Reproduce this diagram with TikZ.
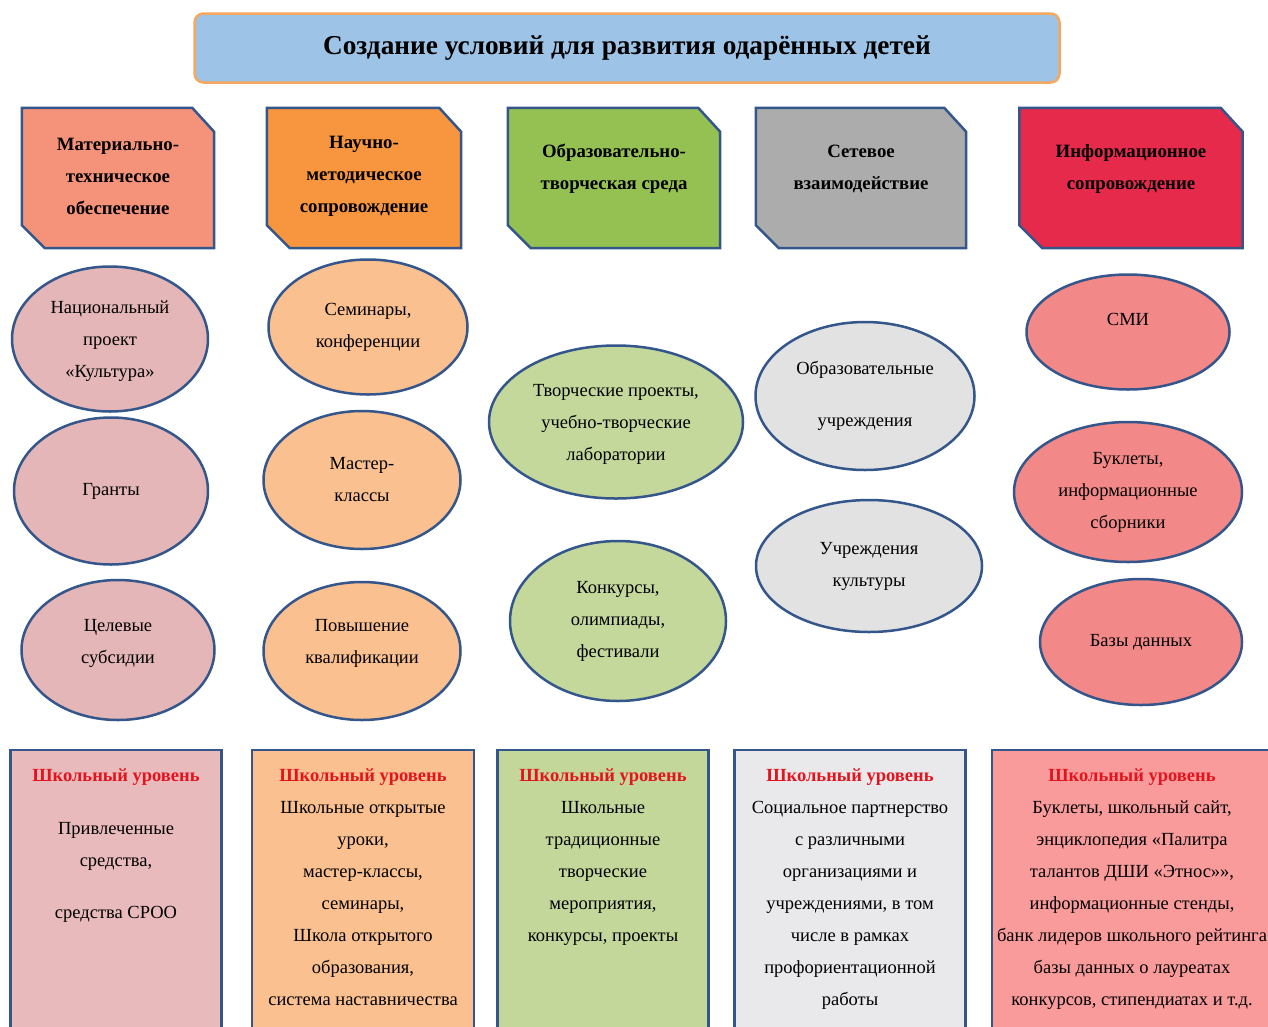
\documentclass[tikz,border=0pt]{standalone}
\usepackage{fontspec}
\setmainfont{Liberation Serif}
\usetikzlibrary{shapes.geometric}
\definecolor{bord}{HTML}{34568B}
\definecolor{titlefill}{HTML}{9DC3E6}
\definecolor{titlebord}{HTML}{F5A860}
\definecolor{hA}{HTML}{F4937A}
\definecolor{hB}{HTML}{F7963F}
\definecolor{hC}{HTML}{95C052}
\definecolor{hD}{HTML}{ACACAC}
\definecolor{hE}{HTML}{E52A4C}
\definecolor{eA}{HTML}{E4B6B7}
\definecolor{eB}{HTML}{FAC090}
\definecolor{eC}{HTML}{C4D89C}
\definecolor{eD}{HTML}{E2E2E2}
\definecolor{eE}{HTML}{F28888}
\definecolor{bA}{HTML}{E8BABC}
\definecolor{bB}{HTML}{FAC08F}
\definecolor{bC}{HTML}{C4D79B}
\definecolor{bD}{HTML}{E9E9EC}
\definecolor{bE}{HTML}{F99B9B}
\definecolor{lvl}{HTML}{E3141E}
\newcommand{\lvltxt}[1]{\textcolor{lvl}{\bfseries #1}}
% chamfered header outline drawn from a named rectangle node
\newcommand{\chamfbox}[2]{%
  \filldraw[fill=#2, draw=bord, line width=2.5pt, line join=miter]
    (#1.north west) -- ([xshift=-22pt]#1.north east) -- ([yshift=-24pt]#1.north east)
    -- (#1.south east) -- ([xshift=23pt]#1.south west) -- ([yshift=23pt]#1.south west) -- cycle;}
\begin{document}
\begin{tikzpicture}[x=1pt,y=-1pt,
  titlebox/.style={draw=titlebord, line width=2.5pt, fill=titlefill, rounded corners=9pt,
    font=\fontsize{27.3}{30}\selectfont\bfseries},
  hdrbox/.style={rectangle, minimum height=140pt, inner sep=0pt},
  hdrtext/.style={align=center, inner sep=0pt, font=\fontsize{18.8}{32}\selectfont\bfseries},
  ellnode/.style={ellipse, draw=bord, line width=2.5pt, align=center, inner sep=0pt,
    font=\fontsize{18.5}{32}\selectfont},
  lowbox/.style={rectangle, draw=bord, line width=2.5pt, minimum height=290pt},
  lowtext/.style={anchor=north, align=center, inner sep=0pt, font=\fontsize{18.5}{32}\selectfont}
]
\useasboundingbox (0,0) rectangle (1268,1026);
\clip (0,0) rectangle (1268,1026);
\fill[white] (0,0) rectangle (1268,1026);

% title
\node[titlebox, minimum width=865pt, minimum height=69pt] (title) at (627,48)
  {Создание условий для развития одарённых детей};

% headers
\node[hdrbox, minimum width=192pt] (hA) at (118,178) {};
\node[hdrbox, minimum width=194pt] (hB) at (364,178) {};
\node[hdrbox, minimum width=212pt] (hC) at (614,178) {};
\node[hdrbox, minimum width=210pt] (hD) at (861,178) {};
\node[hdrbox, minimum width=223pt] (hE) at (1131,178) {};
\chamfbox{hA}{hA}
\chamfbox{hB}{hB}
\chamfbox{hC}{hC}
\chamfbox{hD}{hD}
\chamfbox{hE}{hE}
\node[hdrtext] (hAt) at (118,176) {Материально-\\техническое\\обеспечение};
\node[hdrtext] (hBt) at (364,176) {Научно-\\методическое\\сопровождение};
\node[hdrtext] (hCt) at (614,169) {Образовательно-\\творческая среда};
\node[hdrtext] (hDt) at (861,169) {Сетевое\\взаимодействие};
\node[hdrtext] (hEt) at (1131,169) {Информационное\\сопровождение};

% ellipses column 1
\node[ellnode, fill=eA, minimum width=196pt, minimum height=145pt, text depth=0pt] (eA1) at (110,339) {Национальный\\проект\\«Культура»};
\node[ellnode, fill=eA, minimum width=194pt, minimum height=147pt] (eA2) at (111,491) {Гранты};
\node[ellnode, fill=eA, minimum width=193pt, minimum height=140pt, text depth=18pt] (eA3) at (118,650) {Целевые\\субсидии};
% column 2
\node[ellnode, fill=eB, minimum width=199pt, minimum height=135pt] (eB1) at (368,327) {Семинары,\\конференции};
\node[ellnode, fill=eB, minimum width=197pt, minimum height=138pt] (eB2) at (362,480) {Мастер-\\классы};
\node[ellnode, fill=eB, minimum width=197pt, minimum height=138pt, text depth=20pt] (eB3) at (362,651) {Повышение\\квалификации};
% column 3
\node[ellnode, fill=eC, minimum width=254pt, minimum height=153pt, text depth=0pt] (eC1) at (616,422) {Творческие проекты,\\учебно-творческие\\лаборатории};
\node[ellnode, fill=eC, minimum width=216pt, minimum height=160pt] (eC2) at (618,621) {Конкурсы,\\олимпиады,\\фестивали};
% column 4
\node[ellnode, fill=eD, minimum width=219pt, minimum height=148pt] (eD1) at (865,396) {Образовательные\\[20pt]учреждения};
\node[ellnode, fill=eD, minimum width=226pt, minimum height=132pt] (eD2) at (869,566) {Учреждения\\культуры};
% column 5
\node[ellnode, fill=eE, minimum width=203pt, minimum height=115pt, text depth=25pt] (eE1) at (1128,332) {СМИ};
\node[ellnode, fill=eE, minimum width=228pt, minimum height=140pt] (eE2) at (1128,492) {Буклеты,\\информационные\\сборники};
\node[ellnode, fill=eE, minimum width=202pt, minimum height=126pt] (eE3) at (1141,642) {Базы данных};

% bottom boxes
\node[lowbox, fill=bA, minimum width=211pt] (bA) at (116,895) {};
\node[lowbox, fill=bB, minimum width=222pt] (bB) at (363,895) {};
\node[lowbox, fill=bC, minimum width=211pt] (bC) at (603,895) {};
\node[lowbox, fill=bD, minimum width=231pt] (bD) at (850,895) {};
\node[lowbox, fill=bE, minimum width=280pt] (bE) at (1132,895) {};

\node[lowtext] (tA) at (116,769) {\lvltxt{Школьный уровень}\\[21pt]Привлеченные\\средства,\\[20pt]средства СРОО};
\node[lowtext] (tB) at (363,769) {\lvltxt{Школьный уровень}\\Школьные открытые\\уроки,\\мастер-классы,\\семинары,\\Школа открытого\\образования,\\система наставничества};
\node[lowtext] (tC) at (603,769) {\lvltxt{Школьный уровень}\\Школьные\\традиционные\\творческие\\мероприятия,\\конкурсы, проекты};
\node[lowtext] (tD) at (850,769) {\lvltxt{Школьный уровень}\\Социальное партнерство\\с различными\\организациями и\\учреждениями, в том\\числе в рамках\\профориентационной\\работы};
\node[lowtext] (tE) at (1132,769) {\lvltxt{Школьный уровень}\\Буклеты, школьный сайт,\\энциклопедия «Палитра\\талантов ДШИ «Этнос»»,\\информационные стенды,\\банк лидеров школьного рейтинга\\базы данных о лауреатах\\конкурсов, стипендиатах и т.д.};
\end{tikzpicture}
\end{document}
